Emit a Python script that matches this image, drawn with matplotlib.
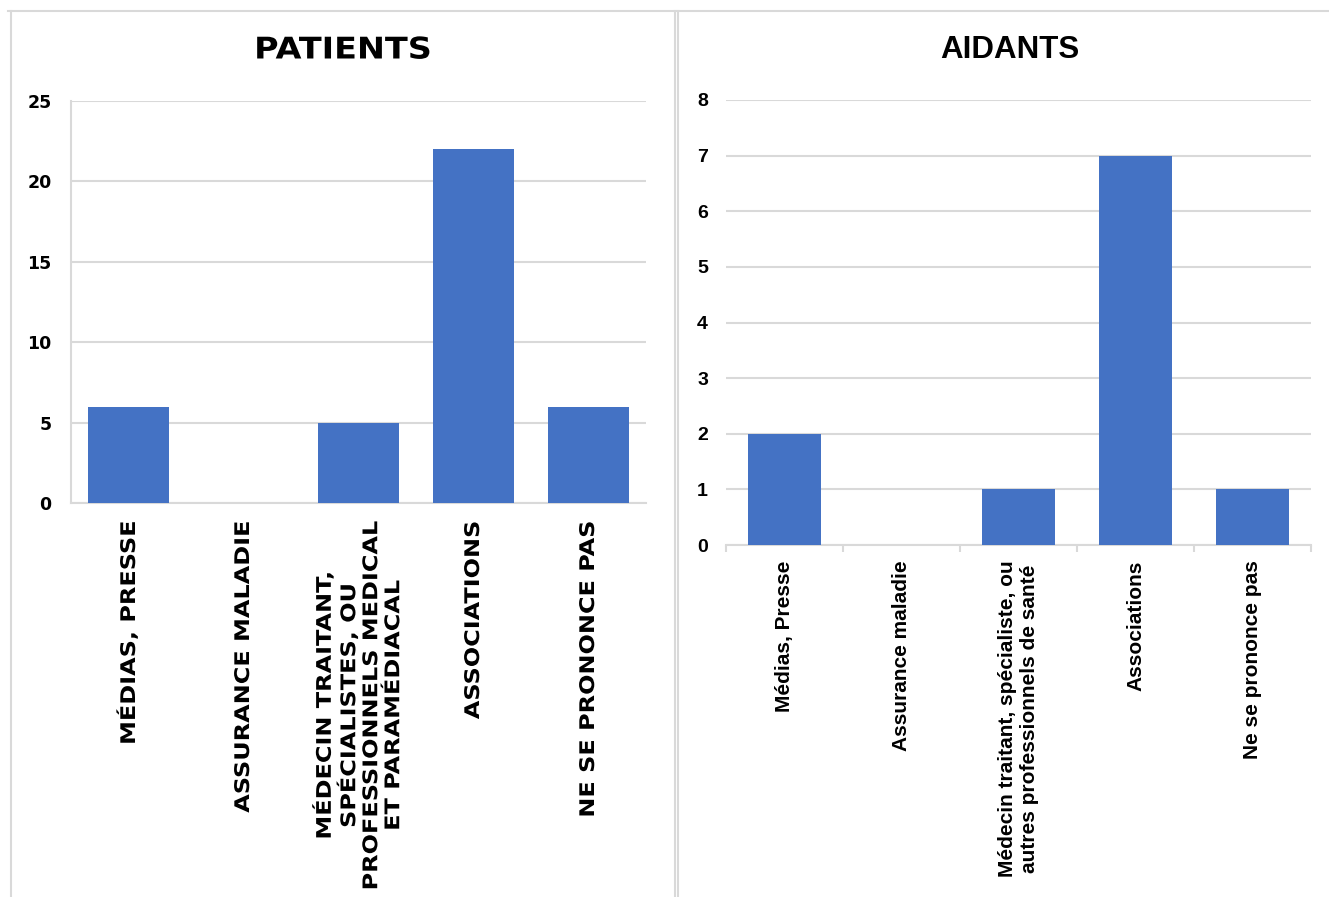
import matplotlib
matplotlib.use("Agg")
import matplotlib.pyplot as plt
from matplotlib.lines import Line2D
from matplotlib.patheffects import AbstractPathEffect
from matplotlib.transforms import Affine2D
import numpy as np

# ---- data ----
patients_labels = ["MÉDIAS, PRESSE", "ASSURANCE MALADIE",
                   "MÉDECIN TRAITANT,\nSPÉCIALISTES, OU\nPROFESSIONNELS MEDICAL\nET PARAMÉDIACAL",
                   "ASSOCIATIONS", "NE SE PRONONCE PAS"]
patients_values = [6, 0, 5, 22, 6]
patients_yticks = [0, 5, 10, 15, 20, 25]

aidants_labels = ["Médias, Presse", "Assurance maladie",
                  "Médecin traitant, spécialiste, ou\nautres professionnels de santé",
                  "Associations", "Ne se prononce pas"]
aidants_values = [2, 0, 1, 7, 1]
aidants_yticks = [0, 1, 2, 3, 4, 5, 6, 7, 8]

BAR = "#4472C4"
GRID = "#d9d9d9"
W, H = 1329, 897

fig = plt.figure(figsize=(W / 100, H / 100), dpi=100)
fig.patch.set_facecolor("white")


class Stretch(AbstractPathEffect):
    """Stretch glyph outlines about an anchor (display coords) to mimic letter spacing."""
    def __init__(self, sx, sy, anchor_fn):
        super().__init__()
        self.sx, self.sy, self.anchor_fn = sx, sy, anchor_fn

    def draw_path(self, renderer, gc, tpath, affine, rgbFace=None):
        x0, y0 = self.anchor_fn()
        t = affine + Affine2D().translate(-x0, -y0).scale(self.sx, self.sy).translate(x0, y0)
        renderer.draw_path(gc, tpath, t, rgbFace)


def fx(x):
    return x / W


def fy(y):
    return 1 - y / H


# panel borders
for (x0, y0, x1, y1) in [(8, 11, 1329, 11), (11, 11, 11, 897), (675, 11, 675, 897), (678, 11, 678, 897)]:
    fig.add_artist(Line2D([fx(x0), fx(x1)], [fy(y0), fy(y1)], color=GRID, lw=1.5, transform=fig.transFigure))

# ---- left: PATIENTS ----
axL = fig.add_axes([fx(71), fy(503), fx(646) - fx(71), fy(101) - fy(503)])
xL = np.arange(len(patients_values))
axL.bar(xL, patients_values, width=0.71, color=BAR, zorder=3)
axL.set_xlim(-0.5, 4.5)
axL.set_ylim(0, 25)
axL.set_yticks(patients_yticks)
axL.set_yticklabels([str(v) for v in patients_yticks], fontfamily="DejaVu Sans",
                    fontweight="bold", fontsize=12.5)
axL.tick_params(axis="y", length=0, pad=14)
axL.set_xticks(xL)
axL.set_xticklabels(patients_labels, rotation=90, fontfamily="DejaVu Sans",
                    fontweight="bold", fontsize=14.5, multialignment="center",
                    ha="center", va="top")
axL.tick_params(axis="x", length=0, pad=10.3)
stretchL = Stretch(1.0, 1.19, lambda: axL.transAxes.transform((0, 0)))
for lab in axL.get_xticklabels():
    lab.set_path_effects([stretchL])
axL.grid(axis="y", color=GRID, lw=1.5, zorder=0)
for s in ["top", "right"]:
    axL.spines[s].set_visible(False)
for s in ["left", "bottom"]:
    axL.spines[s].set_color(GRID)
    axL.spines[s].set_linewidth(1.5)
tL = fig.text(fx(343), fy(50), "PATIENTS", ha="center", va="center",
              fontfamily="DejaVu Sans", fontweight="bold", fontsize=21.5)
tL.set_path_effects([Stretch(1.12, 1.0, lambda: fig.transFigure.transform((fx(343), fy(50))))])

# ---- right: AIDANTS ----
axR = fig.add_axes([fx(726), fy(545), fx(1311) - fx(726), fy(100) - fy(545)])
xR = np.arange(len(aidants_values))
axR.bar(xR, aidants_values, width=0.625, color=BAR, zorder=3)
axR.set_xlim(-0.5, 4.5)
axR.set_ylim(0, 8)
axR.set_yticks(aidants_yticks)
axR.set_yticklabels([str(v) for v in aidants_yticks], fontfamily="Liberation Sans",
                    fontweight="bold", fontsize=14)
axR.tick_params(axis="y", length=0, pad=13)
axR.set_xticks(xR)
axR.set_xticklabels(aidants_labels, rotation=90, fontfamily="Liberation Sans",
                    fontweight="bold", fontsize=15, multialignment="center",
                    ha="center", va="top")
axR.set_xticks(np.arange(-0.5, 5, 1), minor=True)
axR.tick_params(axis="x", which="major", length=0, pad=11)
axR.tick_params(axis="x", which="minor", length=5, color=GRID, width=1.5)
axR.grid(axis="y", color=GRID, lw=1.5, zorder=0)
for s in ["top", "right", "left"]:
    axR.spines[s].set_visible(False)
axR.spines["bottom"].set_color(GRID)
axR.spines["bottom"].set_linewidth(1.5)
fig.text(fx(1010), fy(50), "AIDANTS", ha="center", va="center",
         fontfamily="Liberation Sans", fontweight="bold", fontsize=22.5)

fig.savefig("out.png", dpi=100, facecolor="white")
